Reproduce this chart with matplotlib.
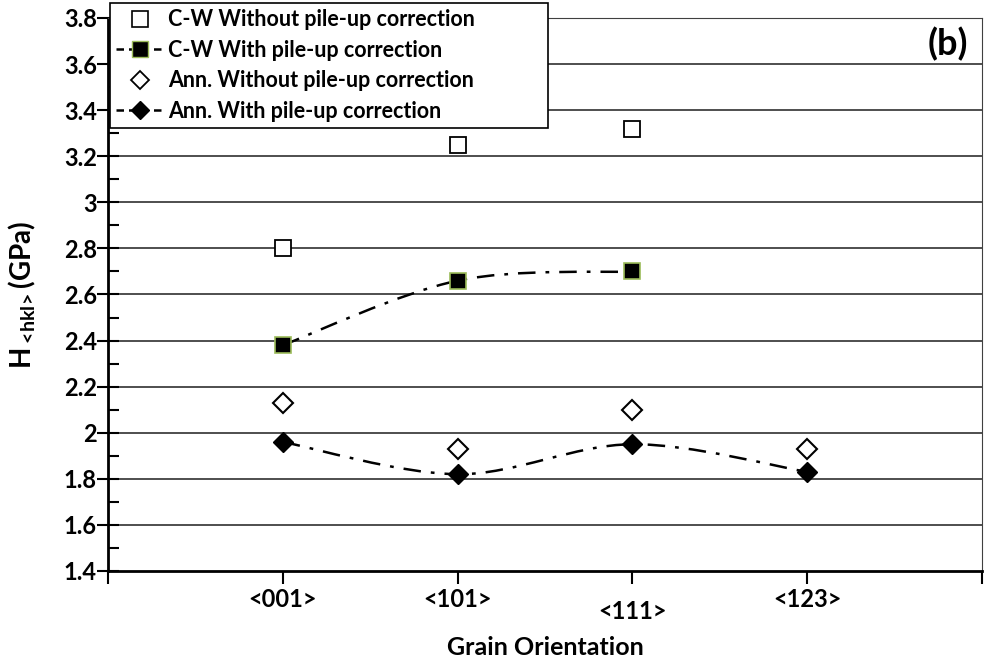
import numpy as np
import matplotlib
matplotlib.use("Agg")
import matplotlib.pyplot as plt
from matplotlib.path import Path
from matplotlib.patches import PathPatch
from matplotlib.lines import Line2D
from matplotlib.ticker import MultipleLocator, FuncFormatter

plt.rcParams['font.family'] = ['Lato', 'DejaVu Sans']
plt.rcParams['font.weight'] = 'bold'
plt.rcParams['axes.labelweight'] = 'bold'
plt.rcParams['mathtext.fontset'] = 'custom'
plt.rcParams['mathtext.rm'] = 'Lato:bold'
plt.rcParams['mathtext.bf'] = 'Lato:bold'
plt.rcParams['mathtext.default'] = 'bf'

# data
orient = ["<001>", "<101>", "<111>", "<123>"]
cw_no_corr = [2.80, 3.25, 3.32]
cw_corr = [2.38, 2.66, 2.70]
ann_no_corr = [2.13, 1.93, 2.10, 1.93]
ann_corr = [1.96, 1.82, 1.95, 1.83]

green = "#9bbb59"
dashdot = (0, (7, 4, 1.5, 4))


def smooth_path(x, y):
    # excel-style smoothed line (catmull-rom as cubic bezier)
    pts = np.column_stack([x, y]).astype(float)
    n = len(pts)
    verts = [pts[0]]
    codes = [Path.MOVETO]
    for i in range(n - 1):
        p0 = pts[i - 1] if i > 0 else pts[i]
        p1 = pts[i]
        p2 = pts[i + 1]
        p3 = pts[i + 2] if i + 2 < n else pts[i + 1]
        c1 = p1 + (p2 - p0) / 6
        c2 = p2 - (p3 - p1) / 6
        verts += [c1, c2, p2]
        codes += [Path.CURVE4] * 3
    return Path(verts, codes)


fig = plt.figure(figsize=(9.85, 6.63), dpi=100)
ax = fig.add_axes([0.1096, 0.1388, 0.8874, 0.8341])

xpos = np.arange(1, len(orient) + 1)

for yv in np.arange(1.6, 3.81, 0.2):
    ax.axhline(yv, color="#404040", lw=1.3, zorder=1)

for xs, ys in [(xpos[:3], cw_corr), (xpos, ann_corr)]:
    ax.add_patch(PathPatch(smooth_path(xs, ys), fill=False, lw=1.8,
                           linestyle=dashdot, edgecolor="black", zorder=2))

ax.plot(xpos[:3], cw_no_corr, ls="none", marker="s", ms=11, mfc="white",
        mec="black", mew=1.3, zorder=3)
ax.plot(xpos[:3], cw_corr, ls="none", marker="s", ms=11, mfc="black",
        mec=green, mew=1.2, zorder=3)
ax.plot(xpos, ann_no_corr, ls="none", marker="D", ms=10, mfc="white",
        mec="black", mew=1.5, zorder=3)
ax.plot(xpos, ann_corr, ls="none", marker="D", ms=10, mfc="black",
        mec="black", mew=1, zorder=3)

ax.set_xlim(0, 5)
ax.set_ylim(1.4, 3.8)
ax.set_xticks([0, 1, 2, 3, 4, 5])
ax.set_xticklabels([""] + orient + [""], fontsize=17)
ax.get_xticklabels()[3].set_y(-0.022)
ax.yaxis.set_major_locator(MultipleLocator(0.2))
ax.yaxis.set_minor_locator(MultipleLocator(0.1))
ax.yaxis.set_major_formatter(FuncFormatter(lambda v, p: f"{round(v, 1):g}"))
ax.tick_params(axis="y", which="major", direction="inout", length=16, width=1.5,
               pad=0, labelsize=17)
ax.tick_params(axis="y", which="minor", direction="in", length=8, width=1.5)
ax.tick_params(axis="x", which="major", direction="out", length=9, width=1.5, pad=3)

for s in ["left", "bottom"]:
    ax.spines[s].set_linewidth(2)
    ax.spines[s].set_color("black")
ax.spines["right"].set_color("#404040")
ax.spines["top"].set_color("#404040")

ax.set_xlabel("Grain Orientation", fontsize=18)
ax.xaxis.set_label_coords(0.5, -0.139)
ax.xaxis.label.set_va("center")
ax.set_ylabel(r"H$_{<\!hkl\!>}$(GPa)", fontsize=20)
ax.yaxis.set_label_coords(-0.098, 0.5)
ax.yaxis.label.set_va("center")
ax.text(0.984, 0.952, "(b)", transform=ax.transAxes, ha="right", va="center",
        fontsize=26)

handles = [
    Line2D([], [], ls="none", marker="s", ms=11, mfc="white", mec="black", mew=1.2),
    Line2D([], [], ls=(0, (3, 2)), color="black", lw=1.8, marker="s", ms=11,
           mfc="black", mec=green),
    Line2D([], [], ls="none", marker="D", ms=9, mfc="white", mec="black", mew=1.3),
    Line2D([], [], ls=(0, (3, 2)), color="black", lw=1.8, marker="D", ms=9,
           mfc="black", mec="black"),
]
labels = ["C-W Without pile-up correction", "C-W With pile-up correction",
          "Ann. Without pile-up correction", "Ann. With pile-up correction"]
leg = fig.legend(handles, labels, loc="upper left",
                 bbox_to_anchor=(0.1117, 0.81, 0.4447, 0.1855),
                 bbox_transform=fig.transFigure, mode="expand", borderaxespad=0,
                 fancybox=False, edgecolor="black", framealpha=1, fontsize=15.5,
                 handlelength=2.2, handletextpad=0.2, labelspacing=0.44,
                 borderpad=0.3)
leg.get_frame().set_linewidth(1.2)

fig.savefig("out.png", dpi=100)
